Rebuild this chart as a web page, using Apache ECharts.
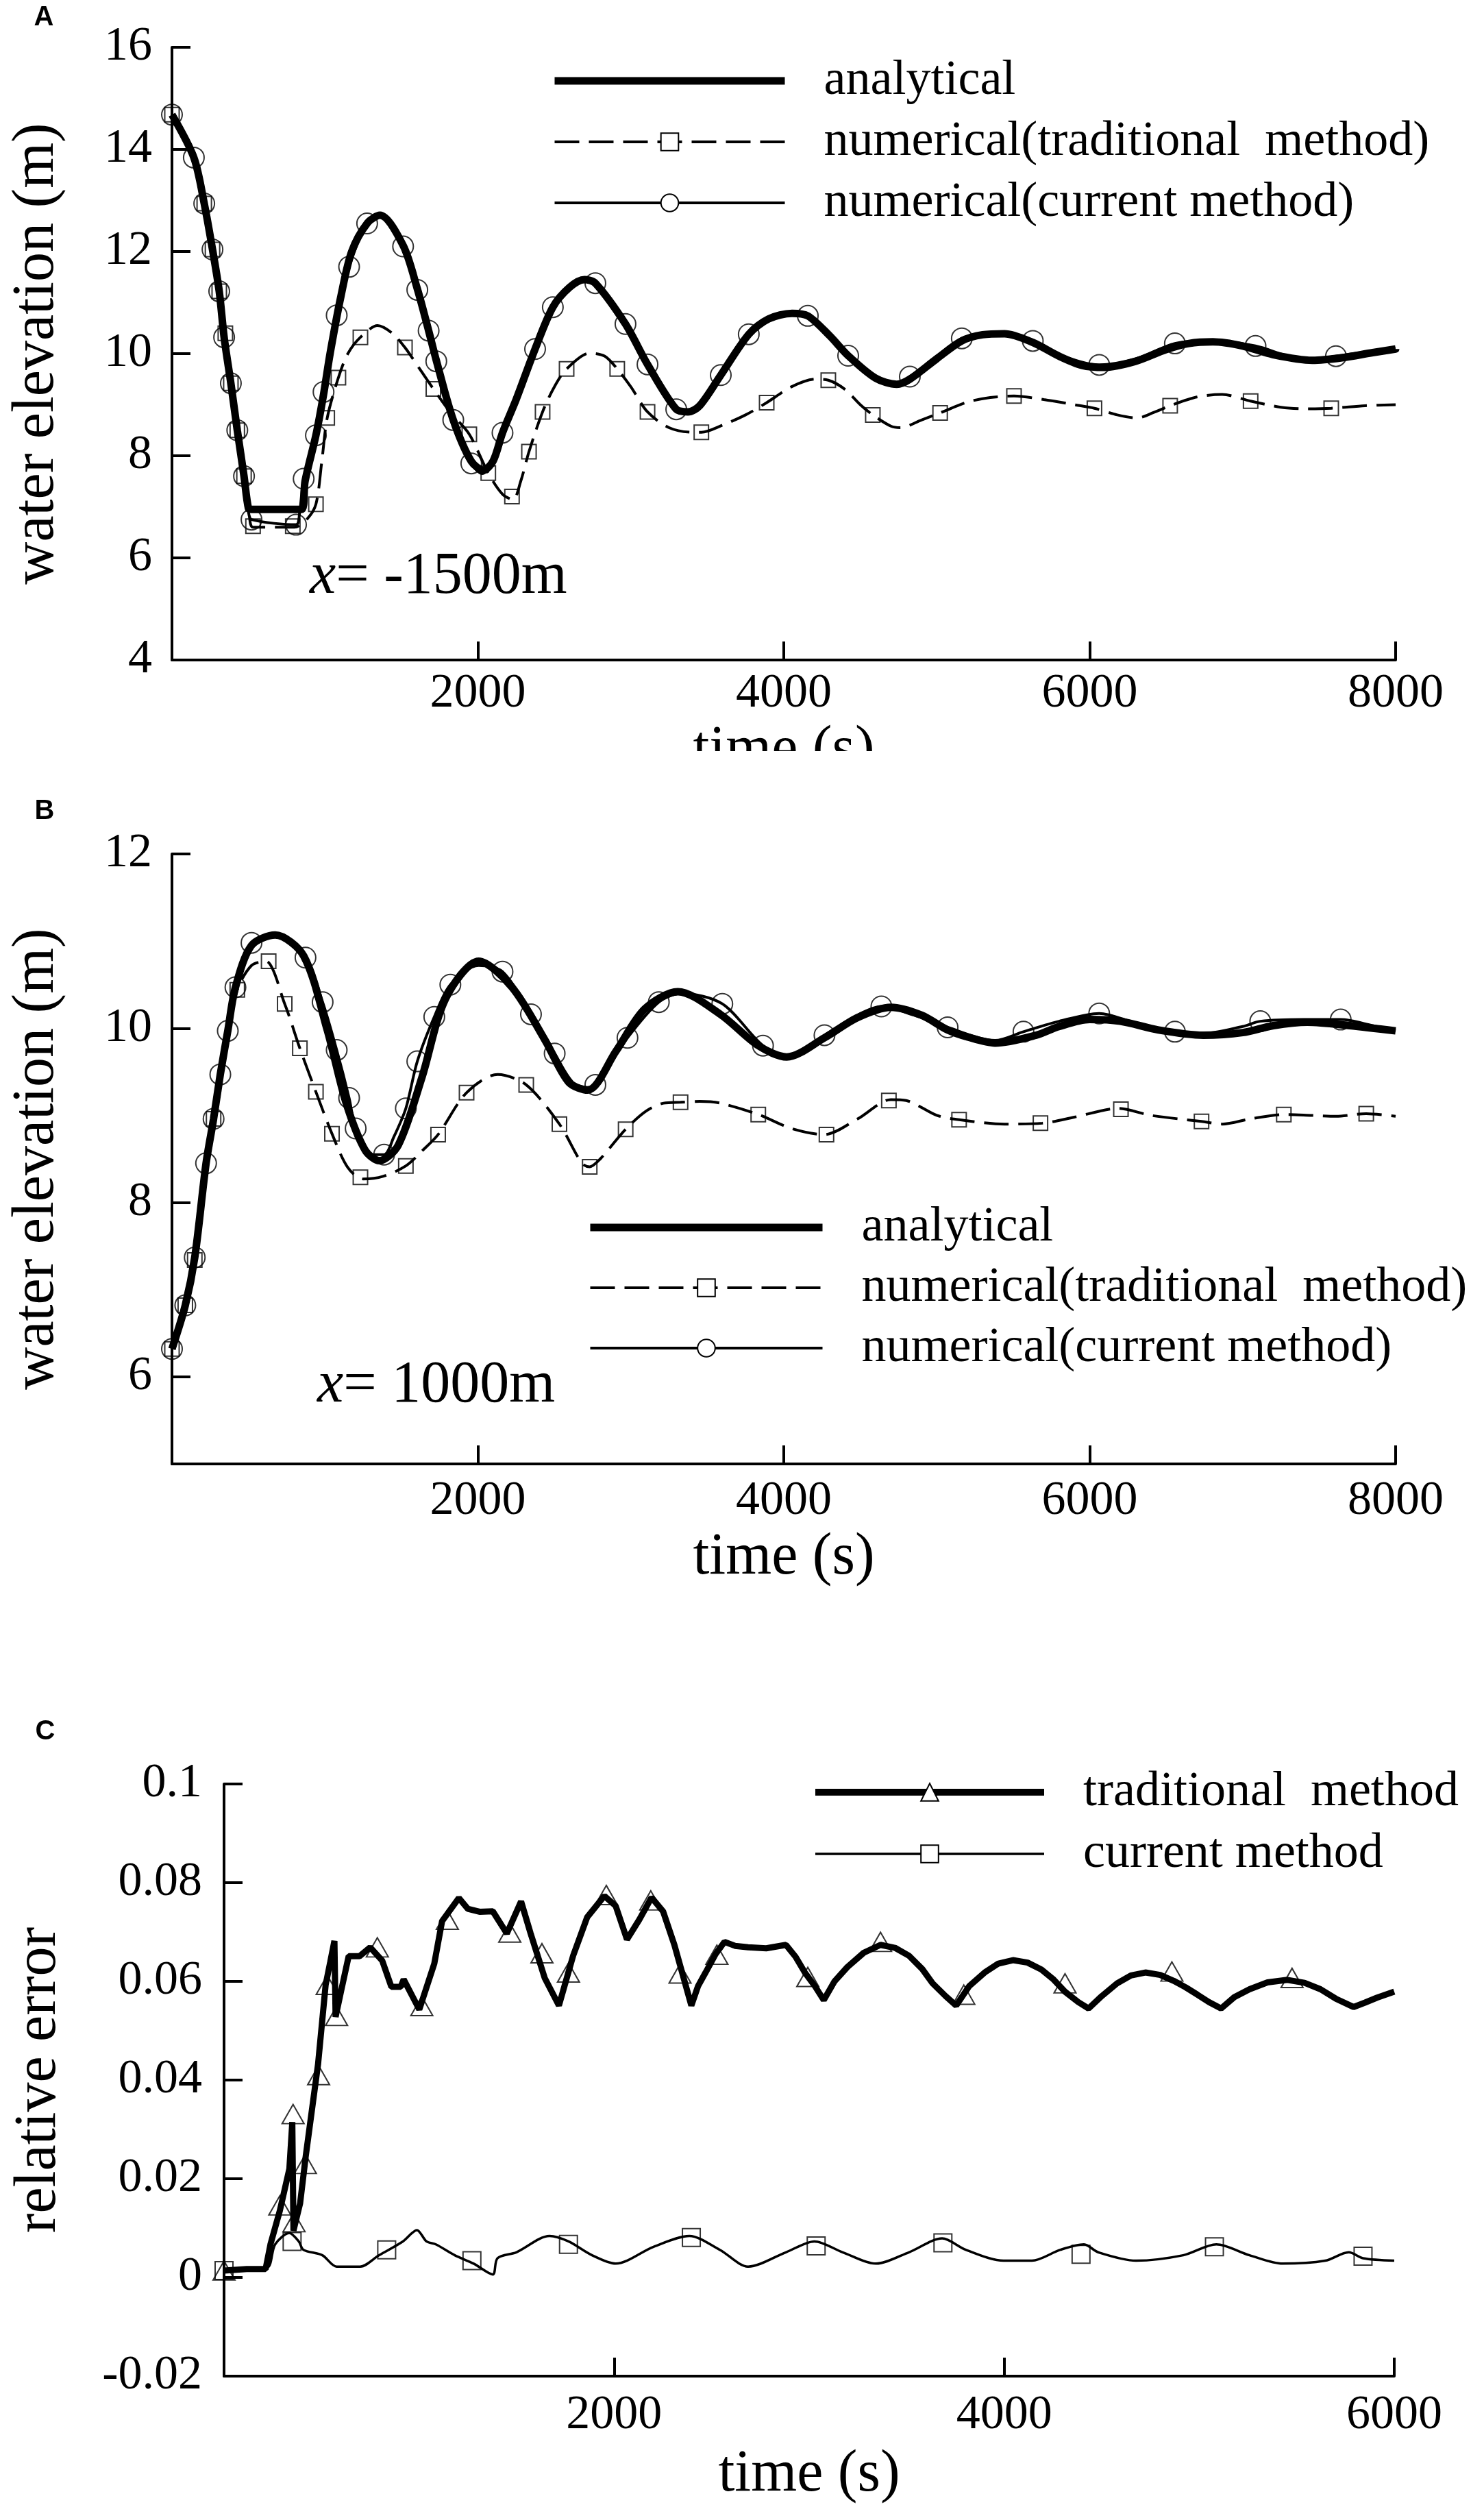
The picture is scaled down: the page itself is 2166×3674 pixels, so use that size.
<!DOCTYPE html>
<html>
<head>
<meta charset="utf-8">
<script src="https://cdn.jsdelivr.net/npm/echarts@6/dist/echarts.min.js"></script>
<style>
  body { margin: 0; background: #fff; }
  .wrap { position: absolute; left: 0; width: 2166px; overflow: hidden; }
</style>
</head>
<body>
<div class="wrap" style="top:0;height:1096px"><div id="chart-a" style="width:2166px;height:1200px"></div></div>
<div class="wrap" style="top:1096px;height:1304px"><div id="chart-b" style="width:2166px;height:1304px"></div></div>
<div class="wrap" style="top:2400px;height:1274px"><div id="chart-c" style="width:2166px;height:1274px"></div></div>
<script>
// ---- panel A : x = -1500m ----
var anaA = [[0,14.68],[143,13.84],[211,12.94],[265,12.04],[309,11.22],[341,10.32],[385,9.42],[427,8.5],[471,7.6],[500,6.97],[520,6.95],[848,6.95],[870,7.5],[941,8.4],[991,9.2],[1036,10.04],[1105,11.13],[1175,12.0],[1278,12.56],[1360,12.71],[1511,12.12],[1604,11.27],[1678,10.45],[1728,9.87],[1839,8.7],[1957,7.89],[2037,7.72],[2100,7.9],[2161,8.45],[2250,9.1],[2374,10.09],[2490,10.91],[2600,11.3],[2697,11.45],[2768,11.38],[2965,10.58],[3109,9.79],[3297,8.91],[3373,8.86],[3450,8.98],[3588,9.58],[3771,10.38],[3900,10.68],[4054,10.79],[4157,10.74],[4300,10.35],[4421,9.96],[4600,9.52],[4739,9.4],[4824,9.5],[5000,9.9],[5164,10.25],[5300,10.37],[5443,10.39],[5628,10.22],[5800,9.95],[5950,9.77],[6093,9.73],[6300,9.85],[6500,10.08],[6650,10.2],[6805,10.23],[7000,10.15],[7200,9.98],[7455,9.87],[7650,9.92],[7850,10.02],[8000,10.09]];
var tradA = [[0,14.68],[143,13.84],[211,12.94],[265,12.04],[309,11.22],[349,10.4],[385,9.42],[427,8.5],[471,7.6],[505,6.85],[530,6.6],[800,6.6],[880,6.75],[941,7.05],[980,7.9],[1015,8.74],[1088,9.53],[1150,10.0],[1232,10.32],[1344,10.55],[1440,10.4],[1523,10.12],[1620,9.7],[1709,9.31],[1820,8.85],[1944,8.42],[2068,7.66],[2160,7.25],[2230,7.14],[2280,7.5],[2334,8.08],[2423,8.86],[2500,9.35],[2580,9.7],[2732,10.01],[2830,9.95],[2911,9.7],[3000,9.35],[3109,8.86],[3250,8.55],[3400,8.46],[3461,8.46],[3600,8.6],[3750,8.8],[3888,9.04],[4050,9.35],[4206,9.5],[4291,9.48],[4400,9.3],[4500,9.0],[4582,8.8],[4700,8.58],[4762,8.55],[4900,8.7],[5022,8.84],[5200,9.05],[5350,9.14],[5505,9.17],[5700,9.1],[5900,9.0],[6031,8.93],[6180,8.8],[6310,8.74],[6420,8.85],[6526,8.98],[6700,9.15],[6866,9.2],[7052,9.07],[7250,8.95],[7400,8.92],[7579,8.93],[7800,8.98],[8000,9.0]];
var curA = [[0,14.68],[143,13.84],[211,12.94],[265,12.04],[309,11.22],[341,10.32],[385,9.42],[427,8.5],[471,7.6],[500,6.9],[520,6.75],[811,6.65],[835,6.9],[861,7.55],[941,8.4],[991,9.25],[1077,10.75],[1158,11.7],[1276,12.55],[1360,12.7],[1511,12.1],[1604,11.25],[1678,10.45],[1728,9.85],[1839,8.7],[1957,7.85],[2030,7.65],[2100,7.88],[2161,8.45],[2250,9.1],[2374,10.09],[2490,10.91],[2600,11.3],[2700,11.45],[2768,11.38],[2965,10.58],[3109,9.79],[3297,8.91],[3373,8.84],[3450,8.98],[3588,9.58],[3771,10.38],[3900,10.68],[4054,10.8],[4157,10.74],[4300,10.35],[4421,9.96],[4600,9.55],[4739,9.42],[4824,9.55],[5000,9.95],[5164,10.3],[5350,10.4],[5450,10.38],[5628,10.25],[5800,9.98],[6062,9.78],[6300,9.9],[6557,10.2],[6800,10.26],[7084,10.15],[7300,9.95],[7450,9.88],[7610,9.95],[7800,10.03],[8000,10.1]];
var tradMkA = [[0,14.68],[211,12.94],[265,12.04],[309,11.22],[349,10.4],[385,9.42],[427,8.5],[471,7.6],[530,6.62],[790,6.62],[941,7.05],[1015,8.74],[1088,9.53],[1232,10.32],[1523,10.12],[1709,9.31],[1944,8.42],[2068,7.66],[2223,7.2],[2334,8.08],[2423,8.86],[2580,9.7],[2911,9.7],[3109,8.86],[3461,8.46],[3888,9.04],[4291,9.48],[4582,8.8],[5022,8.84],[5505,9.17],[6031,8.93],[6526,8.98],[7052,9.07],[7579,8.93]];
var curMkA = [[0,14.68],[143,13.84],[211,12.94],[265,12.04],[309,11.22],[341,10.32],[385,9.42],[427,8.5],[471,7.6],[520,6.75],[811,6.65],[861,7.55],[941,8.4],[991,9.25],[1077,10.75],[1158,11.7],[1276,12.55],[1511,12.1],[1604,11.25],[1678,10.45],[1728,9.85],[1839,8.7],[1957,7.85],[2161,8.45],[2374,10.09],[2490,10.91],[2768,11.38],[2965,10.58],[3109,9.79],[3297,8.91],[3588,9.58],[3771,10.38],[4157,10.74],[4421,9.96],[4824,9.55],[5164,10.3],[5628,10.25],[6062,9.78],[6557,10.2],[7084,10.15],[7610,9.95]];

// ---- panel B : x = 1000m ----
var anaB = [[0,6.32],[87,6.82],[149,7.37],[223,8.45],[272,8.96],[316,9.47],[365,9.97],[415,10.47],[520,10.95],[675,11.07],[861,10.83],[1015,9.98],[1139,9.14],[1263,8.6],[1356,8.48],[1480,8.66],[1635,9.44],[1789,10.34],[2006,10.77],[2223,10.47],[2440,9.86],[2594,9.38],[2718,9.29],[2904,9.74],[3090,10.22],[3307,10.42],[3585,10.16],[3833,9.8],[4019,9.67],[4266,9.89],[4480,10.12],[4700,10.24],[4900,10.15],[5071,9.98],[5200,9.9],[5381,9.83],[5650,9.92],[5800,10.02],[6000,10.1],[6200,10.08],[6450,9.98],[6743,9.92],[7000,9.95],[7200,10.03],[7424,10.07],[7700,10.03],[8000,9.97]];
var tradB = [[0,6.32],[87,6.82],[149,7.34],[223,8.4],[272,8.96],[350,9.8],[427,10.44],[520,10.72],[613,10.77],[737,10.28],[836,9.77],[941,9.27],[1046,8.79],[1150,8.4],[1250,8.27],[1380,8.3],[1529,8.42],[1640,8.6],[1740,8.78],[1926,9.26],[2130,9.47],[2316,9.35],[2533,8.9],[2680,8.45],[2731,8.41],[2800,8.5],[2966,8.84],[3100,9.05],[3214,9.14],[3325,9.15],[3450,9.16],[3585,9.14],[3833,9.01],[4050,8.85],[4266,8.78],[4483,8.96],[4700,9.18],[4800,9.17],[5000,9.0],[5146,8.95],[5443,8.9],[5690,8.91],[5900,8.98],[6186,9.08],[6400,9.0],[6731,8.93],[6867,8.9],[7050,8.96],[7269,9.01],[7450,9.0],[7610,8.99],[7808,9.02],[8000,8.99]];
var curB = [[0,6.32],[87,6.82],[149,7.37],[223,8.45],[272,8.96],[316,9.47],[365,9.97],[415,10.47],[520,10.98],[675,11.05],[873,10.81],[985,10.3],[1077,9.75],[1158,9.2],[1201,8.85],[1290,8.55],[1387,8.55],[1450,8.75],[1529,9.08],[1604,9.62],[1715,10.13],[1820,10.5],[2006,10.72],[2161,10.65],[2347,10.16],[2502,9.71],[2620,9.38],[2720,9.32],[2800,9.42],[2978,9.89],[3183,10.3],[3330,10.4],[3598,10.28],[3864,9.8],[4030,9.68],[4266,9.92],[4480,10.15],[4638,10.25],[4850,10.15],[5071,10.01],[5381,9.86],[5567,9.96],[5800,10.08],[6062,10.17],[6300,10.06],[6557,9.96],[6743,9.94],[7000,10.02],[7115,10.08],[7400,10.1],[7641,10.1],[7850,10.03],[8000,9.97]];
var tradMkB = [[0,6.32],[87,6.82],[149,7.34],[272,8.96],[427,10.44],[632,10.77],[737,10.28],[836,9.77],[941,9.27],[1046,8.79],[1232,8.29],[1529,8.42],[1740,8.78],[1926,9.26],[2316,9.35],[2533,8.9],[2731,8.41],[2966,8.84],[3325,9.15],[3833,9.01],[4279,8.78],[4687,9.17],[5146,8.95],[5678,8.91],[6204,9.07],[6731,8.93],[7269,9.01],[7808,9.02]];
var curMkB = [[0,6.32],[87,6.82],[149,7.37],[223,8.45],[272,8.96],[316,9.47],[365,9.97],[415,10.47],[520,10.98],[873,10.81],[985,10.3],[1077,9.75],[1158,9.2],[1201,8.85],[1387,8.55],[1529,9.08],[1604,9.62],[1715,10.13],[1820,10.5],[2161,10.65],[2347,10.16],[2502,9.71],[2768,9.35],[2978,9.89],[3183,10.3],[3598,10.28],[3864,9.8],[4266,9.92],[4638,10.25],[5071,10.01],[5567,9.96],[6062,10.17],[6557,9.96],[7115,10.08],[7641,10.1]];
var yTicksB = [6, 8, 10, 12];

// ---- panel C : relative error ----
var tradC = [[0,0.0014],[116,0.0017],[213,0.0017],[238,0.0067],[286,0.0135],[335,0.022],[350,0.0315],[356,0.0095],[390,0.015],[419,0.0246],[482,0.0432],[521,0.0593],[545,0.064],[566,0.0682],[572,0.0528],[600,0.058],[639,0.0651],[695,0.0651],[749,0.0669],[811,0.0642],[858,0.0589],[906,0.0589],[921,0.0604],[1001,0.0543],[1078,0.0636],[1118,0.0722],[1204,0.0769],[1250,0.0747],[1310,0.0741],[1378,0.0742],[1450,0.0697],[1523,0.0762],[1572,0.0697],[1644,0.0607],[1717,0.0551],[1790,0.0652],[1862,0.073],[1950,0.0773],[2008,0.0753],[2066,0.0685],[2129,0.0725],[2192,0.077],[2251,0.0742],[2309,0.0674],[2396,0.0551],[2430,0.059],[2469,0.0618],[2520,0.0655],[2566,0.068],[2620,0.0672],[2687,0.0669],[2780,0.0667],[2881,0.0674],[2930,0.065],[2978,0.0618],[3030,0.059],[3075,0.0562],[3130,0.06],[3196,0.0629],[3280,0.0658],[3366,0.0674],[3440,0.0668],[3512,0.0652],[3580,0.0625],[3633,0.0596],[3700,0.057],[3754,0.0551],[3820,0.059],[3900,0.0618],[3970,0.0636],[4045,0.0643],[4120,0.0638],[4191,0.0624],[4250,0.0605],[4312,0.0579],[4380,0.0558],[4433,0.0545],[4500,0.057],[4579,0.0596],[4650,0.0612],[4724,0.0618],[4800,0.0613],[4870,0.0601],[4930,0.0588],[4991,0.0573],[5050,0.0558],[5112,0.0545],[5180,0.0568],[5258,0.0584],[5350,0.0598],[5452,0.0603],[5540,0.0597],[5622,0.0584],[5700,0.0565],[5791,0.0548],[5850,0.0557],[5912,0.0567],[6000,0.0579]];
var curC = [[0,0.0014],[116,0.0017],[223,0.002],[262,0.0067],[335,0.009],[383,0.0073],[407,0.0056],[504,0.0045],[577,0.0022],[698,0.0022],[795,0.0045],[917,0.0073],[989,0.0096],[1038,0.0073],[1086,0.0067],[1183,0.0045],[1280,0.0028],[1378,0.0006],[1402,0.0039],[1499,0.0051],[1669,0.0084],[1766,0.0073],[1887,0.0045],[2008,0.0028],[2202,0.0062],[2386,0.0084],[2542,0.0056],[2687,0.0022],[2881,0.0051],[3027,0.0073],[3172,0.0051],[3342,0.0028],[3512,0.0051],[3682,0.0079],[3803,0.0056],[3997,0.0034],[4142,0.0034],[4288,0.0056],[4409,0.0067],[4482,0.0051],[4676,0.0034],[4918,0.0045],[5088,0.0067],[5258,0.0045],[5428,0.0028],[5646,0.0034],[5767,0.0051],[5840,0.0039],[6000,0.0034]];
var tradMkC = [[0,0.0014],[286,0.0146],[354,0.0331],[359,0.0112],[417,0.023],[485,0.041],[529,0.0593],[577,0.053],[786,0.0669],[1014,0.055],[1145,0.0725],[1465,0.0699],[1630,0.0657],[1766,0.0618],[1960,0.0775],[2188,0.0764],[2338,0.0616],[2527,0.0654],[2993,0.0609],[3366,0.068],[3793,0.0573],[4312,0.0596],[4860,0.062],[5476,0.0607]];
var curMkC = [[0,0.0014],[349,0.0073],[834,0.0056],[1271,0.0034],[1766,0.0067],[2396,0.0081],[3036,0.0064],[3686,0.007],[4394,0.0047],[5078,0.0062],[5840,0.0043]];

var SERIF = "'Liberation Serif', 'Times New Roman', serif";
var BLACK = '#000';
var DASH = [36, 14];
var NAME_ANA = 'analytical';
var NAME_TRAD = 'numerical(traditional  method)';
var NAME_CUR = 'numerical(current method)';

// rich styles so the serif face is forced on tick labels and axis names
var tickRich = { n: { fontFamily: SERIF, fontSize: 70, color: BLACK } };
var nameRich = { n: { fontFamily: SERIF, fontSize: 86, color: BLACK } };

function xAxis(max, nameGap, margin) {
  return {
    type: 'value', min: 0, max: max, interval: 2000,
    name: '{n|time (s)}', nameLocation: 'middle', nameGap: nameGap,
    nameTextStyle: { fontFamily: SERIF, fontSize: 86, color: BLACK, rich: nameRich },
    axisLine: { show: true, onZero: false, lineStyle: { color: BLACK, width: 4 } },
    axisTick: { show: true, inside: true, length: 27, lineStyle: { color: BLACK, width: 4 } },
    axisLabel: { margin: margin, fontFamily: SERIF, fontSize: 70, color: BLACK, rich: tickRich,
      formatter: function (v) { return v === 0 ? '' : '{n|' + v + '}'; } },
    splitLine: { show: false }
  };
}

function yAxis(o) {
  var fmt = o.fmt || function (v) { return String(v); };
  var ax = {
    type: 'value', min: o.min, max: o.max, interval: o.interval,
    name: '{n|' + o.name + '}', nameLocation: 'middle', nameRotate: 90, nameGap: o.nameGap,
    nameTextStyle: { fontFamily: SERIF, fontSize: 86, color: BLACK, rich: nameRich },
    axisLine: { show: true, onZero: false, lineStyle: { color: BLACK, width: 4 } },
    axisTick: { show: true, inside: true, length: 27, lineStyle: { color: BLACK, width: 4 } },
    axisLabel: { margin: o.margin, fontFamily: SERIF, fontSize: 70, color: BLACK, rich: tickRich,
      formatter: function (v) { return '{n|' + fmt(v) + '}'; } },
    splitLine: { show: false }
  };
  if (o.ticks) {
    ax.axisTick.customValues = o.ticks;
    ax.axisLabel.customValues = o.ticks;
  }
  return ax;
}

function line(name, data, width, dash, symbol, smooth) {
  return {
    type: 'line', name: name, data: data, symbol: symbol, showSymbol: false,
    smooth: smooth, color: BLACK, silent: true,
    lineStyle: { color: BLACK, width: width, type: dash || 'solid' },
    itemStyle: { color: BLACK }
  };
}

function marks(name, data, symbol, size) {
  return {
    type: 'scatter', name: name, data: data, symbol: symbol, symbolSize: size,
    silent: true, z: 4,
    itemStyle: { color: 'rgba(0,0,0,0)', borderColor: BLACK, borderWidth: 2 }
  };
}

function legend(left, top, itemWidth, gap, items) {
  return {
    orient: 'vertical', left: left, top: top, padding: 0,
    itemWidth: itemWidth, itemHeight: 32, itemGap: gap,
    selectedMode: false,
    textStyle: { fontFamily: SERIF, fontSize: 72, lineHeight: 72, color: BLACK, padding: [0, 0, 0, 52] },
    data: items
  };
}

function label(text, x, y) {
  return { type: 'text', x: x, y: y, z: 10,
    style: { text: text, font: "bold 40px 'Liberation Sans', Arial, sans-serif", fill: BLACK, align: 'center', verticalAlign: 'middle' } };
}

function note(text, x, y) {
  return { type: 'text', x: x, y: y, z: 10,
    style: { text: text, font: '86px ' + SERIF, fill: BLACK, verticalAlign: 'middle',
      rich: { i: { fontStyle: 'italic', fontSize: 86, fontFamily: SERIF } } } };
}

var legendABItems = [
  { name: NAME_ANA, lineStyle: { width: 11 }, itemStyle: { color: 'rgba(0,0,0,0)', borderWidth: 0 } },
  { name: NAME_TRAD, lineStyle: { width: 4, type: DASH } },
  { name: NAME_CUR, lineStyle: { width: 4 } }
];

// panel A
var chartA = echarts.init(document.getElementById('chart-a'));
chartA.setOption({
  animation: false,
  textStyle: { fontFamily: SERIF },
  grid: { left: 251, top: 69, width: 1786, height: 894, outerBoundsMode: 'none' },
  xAxis: xAxis(8000, 61, 15),
  yAxis: yAxis({ min: 4, max: 16, interval: 2, name: 'water elevation (m)', nameGap: 154, margin: 29 }),
  legend: legend(804, 82, 336, 17, legendABItems),
  graphic: [label('A', 64, 26), note('{i|x}= -1500m', 452, 842)],
  series: [
    line(NAME_ANA, anaA, 11, null, 'none', 0.3),
    line(NAME_TRAD, tradA, 4, DASH, 'emptyRect', 0.3),
    line(NAME_CUR, curA, 4, null, 'emptyCircle', 0.3),
    marks('trad-markers', tradMkA, 'rect', 21),
    marks('cur-markers', curMkA, 'circle', 30)
  ]
});

// panel B
var chartB = echarts.init(document.getElementById('chart-b'));
chartB.setOption({
  animation: false,
  textStyle: { fontFamily: SERIF },
  grid: { left: 251, top: 150, width: 1786, height: 890, outerBoundsMode: 'none' },
  xAxis: xAxis(8000, 71, 20),
  yAxis: yAxis({ min: 5, max: 12, interval: 1, ticks: yTicksB, name: 'water elevation (m)', nameGap: 154, margin: 29 }),
  legend: legend(856, 659, 339, 16, legendABItems),
  graphic: [label('B', 65, 88), note('{i|x}= 1000m', 463, 926)],
  series: [
    line(NAME_ANA, anaB, 11, null, 'none', 0.3),
    line(NAME_TRAD, tradB, 4, DASH, 'emptyRect', 0.3),
    line(NAME_CUR, curB, 4, null, 'emptyCircle', 0.3),
    marks('trad-markers', tradMkB, 'rect', 21),
    marks('cur-markers', curMkB, 'circle', 30)
  ]
});

// panel C
var chartC = echarts.init(document.getElementById('chart-c'));
chartC.setOption({
  animation: false,
  textStyle: { fontFamily: SERIF },
  grid: { left: 327, top: 203, width: 1708, height: 864, outerBoundsMode: 'none' },
  xAxis: xAxis(6000, 101, 23),
  yAxis: yAxis({ min: -0.02, max: 0.1, interval: 0.02, name: 'relative error', nameGap: 227, margin: 32,
    fmt: function (v) { return String(Math.round(v * 100) / 100); } }),
  legend: legend(1185, 179, 334, 18, [
    { name: 'traditional  method', lineStyle: { width: 10 } },
    { name: 'current method', lineStyle: { width: 3.5 } }
  ]),
  graphic: [label('C', 66, 127)],
  series: [
    line('traditional  method', tradC, 9, null, 'emptyTriangle', false),
    line('current method', curC, 3.5, null, 'emptyRect', 0.3),
    marks('trad-markers', tradMkC, 'triangle', [32, 28]),
    marks('cur-markers', curMkC, 'rect', 26)
  ]
});
</script>
</body>
</html>
